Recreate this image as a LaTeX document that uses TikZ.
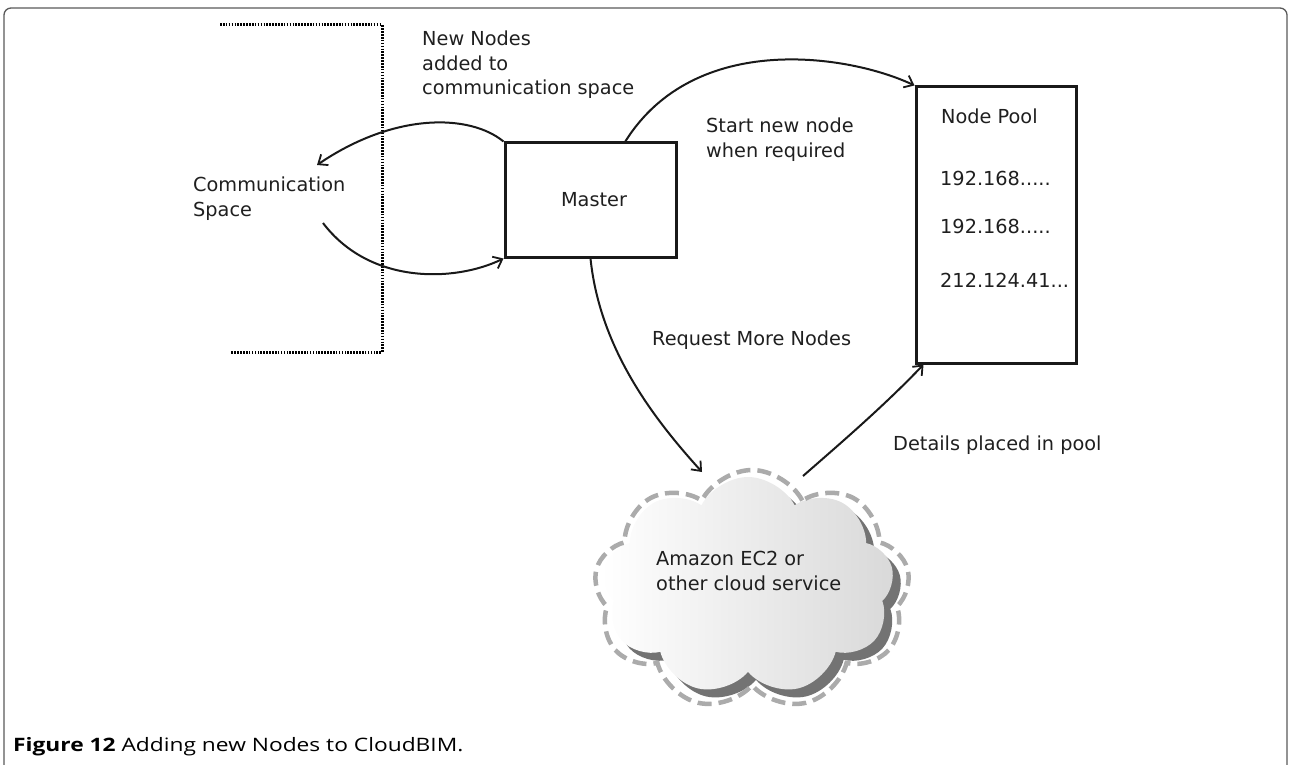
\documentclass[tikz,border=0pt]{standalone}
\usepackage{graphicx}
\usepackage{fontspec}
\setmainfont{DejaVu Sans}
\newfontfamily\capfont{Open Sans}
\usetikzlibrary{arrows.meta,shapes.symbols,calc}
\begin{document}
\begin{tikzpicture}[x=1pt,y=-1pt,
  lbl/.style={anchor=north west, inner sep=0pt, align=left, font=\fontsize{19.3}{24.5}\selectfont, text=black!88},
  box/.style={draw=black!90, line width=3pt, inner sep=0pt},
  conn/.style={line width=2pt, draw=black!90, -{Straight Barb[length=8pt,width=13pt,line width=1.8pt]}},
  hatch/.style={line width=3pt, dash pattern=on 1.6pt off 1.3pt, draw=black},
  cloudshape/.style={cloud, cloud puffs=9, cloud puff arc=125, cloud ignores aspect, inner sep=0pt}
]
\useasboundingbox (0,0) rectangle (1290,765);
% frame
\draw[black!65, line width=1.3pt, rounded corners=7pt] (4,780) -- (4,8) -- (1287,8) -- (1287,780);
% communication space bracket
\draw[hatch] (220,25) -- (382,25) -- (382,352) -- (231,352);
% boxes
\node[box, minimum width=171pt, minimum height=114pt] (master) at (590.5,200) {};
\node[lbl, anchor=center] (mastertxt) at (594,200) {Master};
\node[box, minimum width=160pt, minimum height=276pt] (pool) at (996,225) {};
% texts
\node[lbl] (newnodes) at (422,31) {New Nodes\\added to\\communication space};
\node[lbl] (commspace) at (193,177) {Communication\\Space};
\node[lbl] (startnew) at (706,118) {Start new node\\when required};
\node[lbl] (pooltitle) at (941,109) {Node Pool};
\node[lbl] (ipa) at (940,171) {192.168.....};
\node[lbl] (ipb) at (940,219) {192.168.....};
\node[lbl] (ipc) at (940,273) {212.124.41...};
\node[lbl] (request) at (652,331) {Request More Nodes};
\node[lbl] (details) at (893,436) {Details placed in pool};
% cloud
\node[cloudshape, minimum width=292pt, minimum height=218pt, fill=black!55, draw=none] (cshadow) at (756,594) {};
\node[cloudshape, minimum width=292pt, minimum height=218pt, left color=white, right color=black!15, draw=none] (cloudfill) at (748,586) {};
\node[cloudshape, minimum width=316pt, minimum height=240pt, draw=black!33, line width=4.5pt, dash pattern=on 14pt off 7pt] (cloud) at (752,590) {};
\node[lbl] (amazon) at (656,551) {Amazon EC2 or\\other cloud service};
% connector ends
\coordinate (csin) at (317,165);
\coordinate (csout) at (323,223);
\coordinate (cloudin) at (702,472);
\coordinate (cloudout) at (803,476);
% connectors
\draw[conn] (master.north west) .. controls (470,114) and (395,112) .. (csin);
\draw[conn] (csout) .. controls (370,285) and (455,282) .. (master.south west);
\draw[conn] ($(master.north west)!0.7!(master.north east)$) .. controls (695,30) and (850,55) .. (pool.north west);
\draw[conn] (master.south) .. controls (600,350) and (655,420) .. (cloudin);
\draw[conn] (cloudout) .. controls (842,442) and (886,404) .. ($(pool.south west)+(9,0)$);
% caption
\node[anchor=base west, inner sep=0pt, font=\capfont\fontsize{18.5}{20}\selectfont] (caption) at (13,751) {\scalebox{1.23}[1]{\textbf{Figure 12} Adding new Nodes to CloudBIM.}};
\end{tikzpicture}
\end{document}
